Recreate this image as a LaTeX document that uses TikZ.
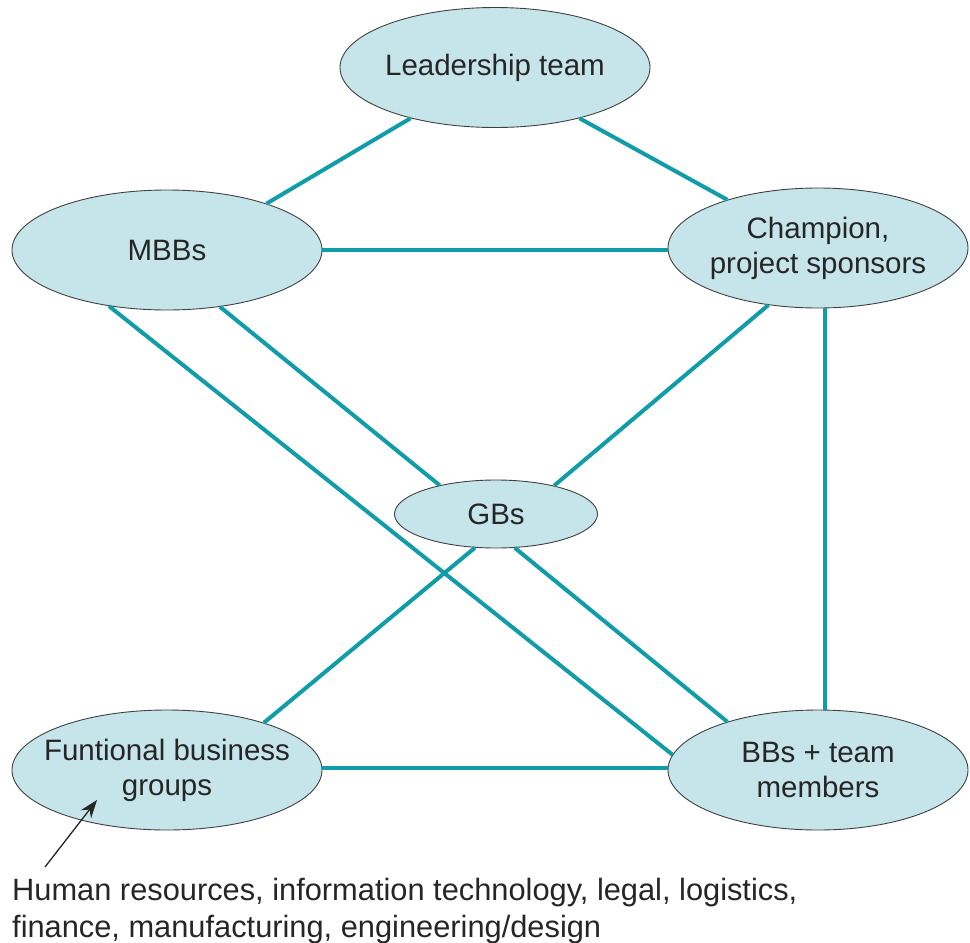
\documentclass[tikz,border=0pt]{standalone}
\usepackage{fontspec}
\setmainfont{Liberation Sans}
\usetikzlibrary{shapes.geometric,arrows.meta}
\definecolor{fillblue}{HTML}{C6E5EB}
\definecolor{teal}{HTML}{109CA8}
\definecolor{txt}{HTML}{262626}
\begin{document}
\begin{tikzpicture}[x=1pt,y=-1pt,
  oval/.style={ellipse,draw=black!75,line width=0.9pt,fill=fillblue,inner xsep=-30pt,inner ysep=-12pt,
     text=txt,align=center,font=\fontsize{29.5}{35}\selectfont},
  link/.style={draw=teal,line width=4pt},
  lbl/.style={text=txt,font=\fontsize{30.8}{37}\selectfont,inner sep=0pt}]
\useasboundingbox (0,0) rectangle (970,943);
\node[oval,minimum width=310pt,minimum height=120pt] (lead) at (495,67.5) {Leadership team};
\node[oval,minimum width=310pt,minimum height=120pt] (mbb) at (167,250) {MBBs};
\node[oval,minimum width=300pt,minimum height=120pt] (champ) at (818,248) {Champion,\\project sponsors};
\node[oval,minimum width=203pt,minimum height=68pt] (gb) at (496,514) {GBs};
\node[oval,minimum width=310pt,minimum height=120pt] (func) at (167,770) {Funtional business\\groups};
\node[oval,minimum width=300pt,minimum height=120pt] (bb) at (818,770) {BBs + team\\members};
\path[link] (lead.211) -- (mbb.25.6);
\path[link] (lead.329.7) -- (champ.152.7);
\path[link] (mbb) -- (mbb -| champ.west);
\path[link] (mbb.313) -- (gb.153.4);
\path[link] (mbb.224) -- (bb.174);
\path[link] (champ.229.9) -- (gb.26.6);
\path[link] ([xshift=7pt]champ.south) -- ([xshift=7pt]bb.north);
\path[link] (gb.238.3) -- (func.26.1);
\path[link] (gb.299) -- (bb.152.2);
\path[link] ([yshift=2pt]func.east) -- ([yshift=2pt]bb.west);
\coordinate (atail) at (45,867);
\coordinate (ahead) at (97,800);
\draw[black!85,line width=1.3pt,-{Stealth[length=18pt,width=13pt]}] (atail) -- (ahead);
\node[lbl,anchor=base west] (noteA) at (12,900) {Human resources, information technology, legal, logistics,};
\node[lbl,anchor=base west] (noteB) at (12,937) {finance, manufacturing, engineering/design};
\end{tikzpicture}
\end{document}
